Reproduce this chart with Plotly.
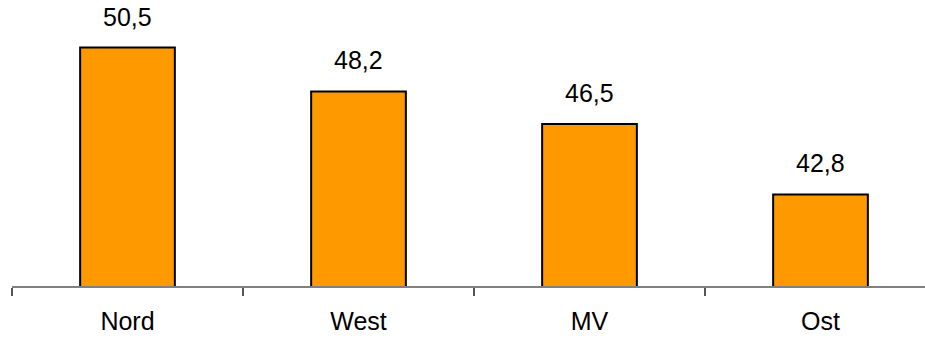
import plotly.graph_objects as go

regions = ["Nord", "West", "MV", "Ost"]
values = [50.5, 48.2, 46.5, 42.8]

bar_color = "#FF9900"
font_family = "Liberation Sans, Arial, sans-serif"

fig = go.Figure(
    go.Bar(
        x=regions,
        y=values,
        width=0.41,
        marker=dict(color=bar_color, line=dict(color="#000000", width=2)),
        hoverinfo="skip",
    )
)

# value labels above each bar, German decimal comma
for r, v in zip(regions, values):
    fig.add_annotation(
        x=r, y=v, text=f"{v:.1f}".replace(".", ","),
        showarrow=False, yanchor="bottom", yshift=15,
        font=dict(family=font_family, size=25, color="#000000"),
    )

fig.update_layout(
    width=925, height=338,
    margin=dict(l=12, r=0, t=19, b=52),
    paper_bgcolor="white", plot_bgcolor="white",
    showlegend=False,
    font=dict(family=font_family, size=25, color="#000000"),
    xaxis=dict(
        type="category",
        range=[-0.5, 3.5 - 11 / 231],
        tickson="boundaries",
        ticks="outside", ticklen=8, tickwidth=1.5, tickcolor="#555555",
        showline=True, linecolor="#808080", linewidth=2,
        showgrid=False, zeroline=False,
        tickfont=dict(family=font_family, size=25, color="#000000"),
        ticklabelstandoff=12,
    ),
    yaxis=dict(
        range=[38, 52],
        visible=False, showgrid=False, zeroline=False,
    ),
)

fig.write_html("out.html")
